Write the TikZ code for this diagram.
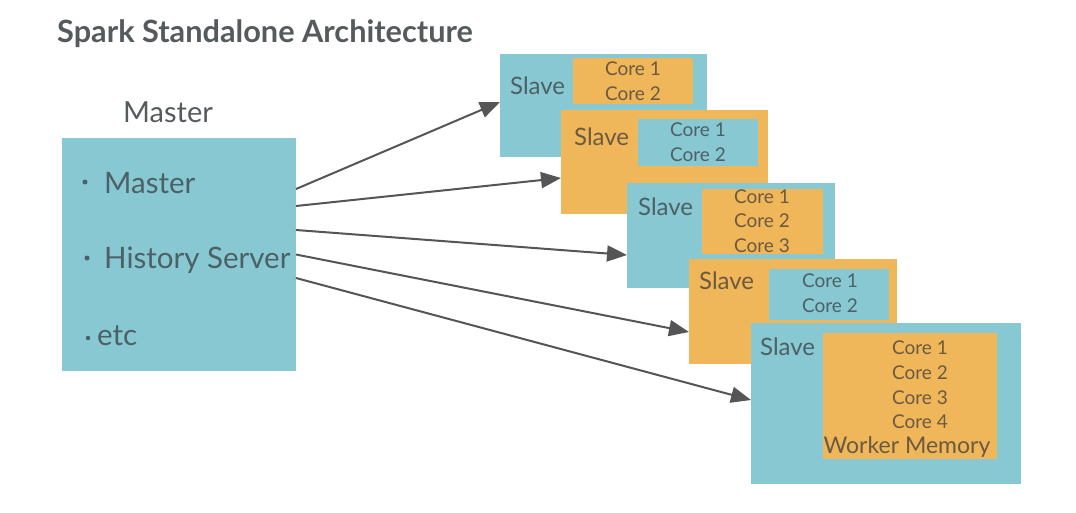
\documentclass[tikz,border=0pt]{standalone}
\usepackage{fontspec}
\setmainfont{Lato}
\usetikzlibrary{arrows.meta}
\definecolor{cblue}{HTML}{88C8D2}
\definecolor{corange}{HTML}{F0B65A}
\definecolor{ctext}{HTML}{555A5C}
\definecolor{cblt}{HTML}{4C6166}
\definecolor{cort}{HTML}{6B5A40}
\definecolor{carrow}{HTML}{555555}
\tikzset{
  boxb/.style={fill=cblue, draw=none, inner sep=0pt, outer sep=0pt, anchor=north west},
  boxo/.style={fill=corange, draw=none, inner sep=0pt, outer sep=0pt, anchor=north west},
  slavelbl/.style={anchor=base west, inner sep=0pt, font=\fontsize{24}{28}\selectfont},
  corelbl/.style={anchor=base, inner sep=0pt, font=\fontsize{19}{22}\selectfont},
  masterlbl/.style={anchor=base west, inner sep=0pt, text=cblt, font=\fontsize{29.5}{33}\selectfont},
  bdot/.style={circle, fill=cblt, inner sep=0pt, minimum size=#1},
  conn/.style={draw=carrow, line width=2pt, -{Triangle[length=20pt,width=16pt]}},
}
\begin{document}
\begin{tikzpicture}[x=1pt,y=-1pt]
\useasboundingbox (0,0) rectangle (1076,512);
% title
\node[anchor=base west, inner sep=0pt, text=ctext, font=\fontsize{30.7}{34}\selectfont\bfseries] (title) at (57,42) {Spark Standalone Architecture};
% master
\node[anchor=base west, inner sep=0pt, text=ctext, font=\fontsize{29}{33}\selectfont] (mlabel) at (123,122) {Master};
\node[boxb, minimum width=234, minimum height=233] (m) at (62,138) {};
\node[bdot=5pt] (d1) at (85,182) {};
\node[masterlbl] (b1) at (104,193) {Master};
\node[bdot=5pt] (d2) at (87,258) {};
\node[masterlbl] (b2) at (104,268) {History Server};
\node[bdot=4.5pt] (d3) at (88,338) {};
\node[masterlbl] (b3) at (97,345) {etc};
% slave 1
\node[boxb, minimum width=207, minimum height=103] (s1) at (500,54) {};
\node[boxo, minimum width=120, minimum height=46] (s1i) at (573,58) {};
\node[slavelbl, text=cblt] (s1l) at (510,94) {Slave};
\node[corelbl, text=cort] (s1c1) at (633,75.5) {Core 1};
\node[corelbl, text=cort] (s1c2) at (633,100.5) {Core 2};
% slave 2
\node[boxo, minimum width=207, minimum height=104] (s2) at (561,110) {};
\node[boxb, minimum width=120, minimum height=47] (s2i) at (638,119) {};
\node[slavelbl, text=cort] (s2l) at (574,145) {Slave};
\node[corelbl, text=cblt] (s2c1) at (698,136.5) {Core 1};
\node[corelbl, text=cblt] (s2c2) at (698,161.5) {Core 2};
% slave 3
\node[boxb, minimum width=208, minimum height=105] (s3) at (627,183) {};
\node[boxo, minimum width=121, minimum height=65] (s3i) at (702,189) {};
\node[slavelbl, text=cblt] (s3l) at (638,215) {Slave};
\node[corelbl, text=cort] (s3c1) at (762,203.5) {Core 1};
\node[corelbl, text=cort] (s3c2) at (762,227.5) {Core 2};
\node[corelbl, text=cort] (s3c3) at (762,252.5) {Core 3};
% slave 4
\node[boxo, minimum width=208, minimum height=105] (s4) at (689,259) {};
\node[boxb, minimum width=120, minimum height=51] (s4i) at (769,269) {};
\node[slavelbl, text=cort] (s4l) at (699,289) {Slave};
\node[corelbl, text=cblt] (s4c1) at (830,287.5) {Core 1};
\node[corelbl, text=cblt] (s4c2) at (830,312.5) {Core 2};
% slave 5
\node[boxb, minimum width=270, minimum height=161] (s5) at (751,323) {};
\node[boxo, minimum width=174, minimum height=126] (s5i) at (823,333) {};
\node[slavelbl, text=cblt] (s5l) at (760,355) {Slave};
\node[corelbl, text=cort] (s5c1) at (920,354.5) {Core 1};
\node[corelbl, text=cort] (s5c2) at (920,379.5) {Core 2};
\node[corelbl, text=cort] (s5c3) at (920,404.5) {Core 3};
\node[corelbl, text=cort] (s5c4) at (920,428.5) {Core 4};
\node[anchor=base, inner sep=0pt, text=cort, font=\fontsize{23}{27}\selectfont] (s5wm) at (907,453) {Worker Memory};
% connectors
\draw[conn] ([yshift=65.5pt]m.east) -- ([yshift=3.5pt]s1.west);
\draw[conn] ([yshift=48.5pt]m.east) -- ([yshift=-16pt]s2.west);
\draw[conn] ([yshift=24.5pt]m.east) -- ([yshift=-19.5pt]s3.west);
\draw[conn] ([yshift=0pt]m.east) -- ([yshift=-20.5pt]s4.west);
\draw[conn] ([yshift=-23.5pt]m.east) -- ([yshift=3.5pt]s5.west);
\end{tikzpicture}
\end{document}
